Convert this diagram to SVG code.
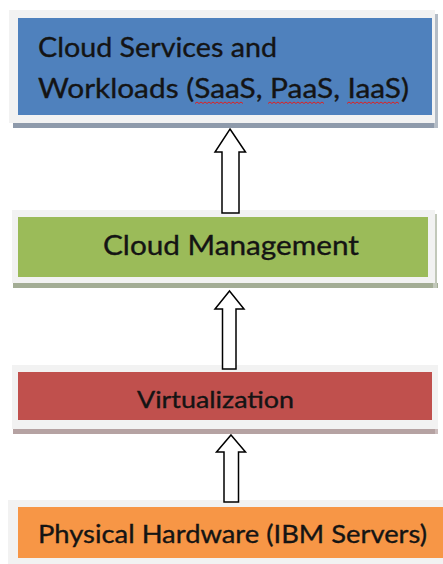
<svg xmlns="http://www.w3.org/2000/svg" width="443" height="564" viewBox="0 0 443 564">
<style>
.frame{fill:#f2f2f2}
.t{font-family:Lato,"Liberation Sans",sans-serif;fill:#141414;stroke:#141414;stroke-width:0.35}
.arrow{fill:#ffffff;stroke:#000000;stroke-width:1.5;stroke-linejoin:miter}
.sq{fill:none;stroke:#e02020;stroke-width:1}
</style>
<rect width="443" height="564" fill="#ffffff"/>
<g id="node-cloud-services">
<rect x="13" y="123" width="425" height="5" fill="#8e9aab"/>
<rect x="434" y="14" width="4" height="114" fill="#b4bcc6"/>
<rect class="frame" x="9" y="10" width="426" height="113"/>
<rect x="18" y="18" width="414" height="97" fill="#4f81bd"/>
<text class="t" x="38" y="57" font-size="27" textLength="239" lengthAdjust="spacingAndGlyphs">Cloud Services and</text>
<text class="t" x="38" y="98" font-size="27" textLength="371" lengthAdjust="spacingAndGlyphs">Workloads (SaaS, PaaS, IaaS)</text>
<path class="sq" d="M195 103.5 l2 -1.5 l2 1.5 l2 -1.5 l2 1.5 l2 -1.5 l2 1.5 l2 -1.5 l2 1.5 l2 -1.5 l2 1.5 l2 -1.5 l2 1.5 l2 -1.5 l2 1.5 l2 -1.5 l2 1.5 l2 -1.5 l2 1.5 l2 -1.5 l2 1.5 l2 -1.5 l2 1.5 l2 -1.5 l2 1.5"/>
<path class="sq" d="M268 103.5 l2 -1.5 l2 1.5 l2 -1.5 l2 1.5 l2 -1.5 l2 1.5 l2 -1.5 l2 1.5 l2 -1.5 l2 1.5 l2 -1.5 l2 1.5 l2 -1.5 l2 1.5 l2 -1.5 l2 1.5 l2 -1.5 l2 1.5 l2 -1.5 l2 1.5 l2 -1.5 l2 1.5 l2 -1.5 l2 1.5 l2 -1.5 l2 1.5 l2 -1.5 l2 1.5"/>
<path class="sq" d="M347 103.5 l2 -1.5 l2 1.5 l2 -1.5 l2 1.5 l2 -1.5 l2 1.5 l2 -1.5 l2 1.5 l2 -1.5 l2 1.5 l2 -1.5 l2 1.5 l2 -1.5 l2 1.5 l2 -1.5 l2 1.5 l2 -1.5 l2 1.5 l2 -1.5 l2 1.5 l2 -1.5 l2 1.5 l2 -1.5 l2 1.5 l2 -1.5 l2 1.5"/>
</g>
<g id="node-cloud-management">
<rect x="13" y="283" width="425" height="5" fill="#a3ad95"/>
<rect x="433" y="214" width="4" height="74" fill="#c2c8ba"/>
<rect class="frame" x="12" y="210" width="423" height="73"/>
<rect x="18" y="217" width="410" height="60" fill="#9bbb59"/>
<text class="t" x="103" y="255" font-size="27" textLength="256" lengthAdjust="spacingAndGlyphs">Cloud Management</text>
</g>
<g id="node-virtualization">
<rect x="13" y="429" width="425" height="5" fill="#b5a2a2"/>
<rect x="435" y="369" width="3" height="65" fill="#cbbcbc"/>
<rect class="frame" x="12" y="365" width="426" height="64"/>
<rect x="18" y="372" width="414" height="48" fill="#c0504d"/>
<text class="t" x="137" y="408" font-size="23" textLength="157" lengthAdjust="spacingAndGlyphs">Virtualization</text>
</g>
<g id="node-physical-hardware">
<rect class="frame" x="8" y="500" width="435" height="64"/>
<rect x="18" y="507" width="425" height="51" fill="#f79646"/>
<text class="t" x="38" y="543" font-size="25" textLength="389" lengthAdjust="spacingAndGlyphs">Physical Hardware (IBM Servers)</text>
</g>
<g id="connectors">
<path class="arrow" d="M230 129 L245.5 152 L239 152 L239 213 L222 213 L222 152 L215 152 Z"/>
<path class="arrow" d="M229.5 291 L244 309 L236 309 L236 369 L222.5 369 L222.5 309 L215 309 Z"/>
<path class="arrow" d="M231 435 L245.5 452 L238.5 452 L238.5 502 L224 502 L224 452 L216.5 452 Z"/>
</g>
</svg>
